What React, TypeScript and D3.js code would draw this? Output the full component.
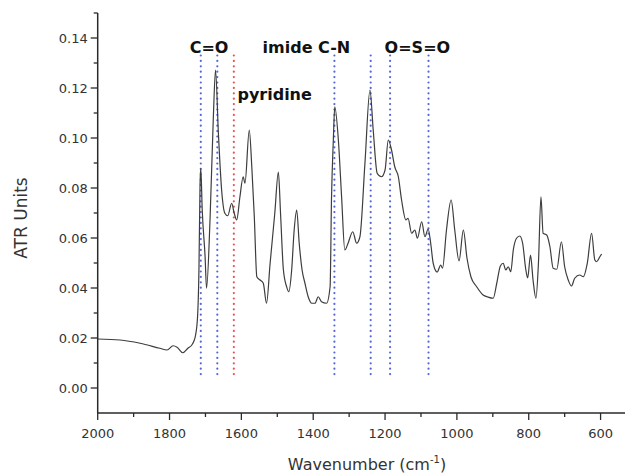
import React from 'react';
import * as d3 from 'd3';

const wavenumber = [
  2000, 1938, 1882, 1827, 1807, 1790, 1779, 1763, 1749, 1738, 1731, 1728, 1722, 1718, 1715, 1713, 1709, 1701, 1697,
  1687, 1678, 1672, 1664, 1655, 1646, 1638, 1627, 1620, 1613, 1604, 1595, 1590, 1578, 1571, 1564, 1557, 1548, 1539,
  1530, 1520, 1507, 1497, 1491, 1483, 1474, 1468, 1460, 1453, 1446, 1439, 1431, 1423, 1414, 1404, 1395, 1386, 1377,
  1363, 1353, 1349, 1344, 1340, 1330, 1321, 1312, 1303, 1290, 1279, 1270, 1256, 1242, 1233, 1222, 1210, 1200, 1191,
  1182, 1173, 1163, 1154, 1142, 1136, 1126, 1117, 1110, 1098, 1089, 1080, 1073, 1066, 1055, 1045, 1040, 1029, 1016,
  1006, 994, 982, 972, 961, 945, 927, 914, 899, 889, 879, 871, 864, 857, 850, 843, 834, 825, 817, 808, 803, 795, 788,
  780, 773, 766, 760, 750, 741, 732, 722, 709, 700, 690, 681, 672, 658, 648, 637, 625, 616, 611, 602, 597,
];

const absorbance = [
  0.0196, 0.0192, 0.0179, 0.0159, 0.0152, 0.0169, 0.0163, 0.0141, 0.0159, 0.0172, 0.0192, 0.0208, 0.0285, 0.0485,
  0.082, 0.0879, 0.0712, 0.0525, 0.0399, 0.0685, 0.1085, 0.1272, 0.1019, 0.0792, 0.0699, 0.0689, 0.0739, 0.0699,
  0.0672, 0.0765, 0.0845, 0.0819, 0.1032, 0.0885, 0.0685, 0.0445, 0.0432, 0.0419, 0.0339, 0.0499, 0.0699, 0.0864,
  0.0699, 0.0472, 0.0405, 0.0385, 0.0472, 0.0632, 0.0712, 0.0579, 0.0472, 0.0419, 0.0365, 0.0339, 0.0339, 0.0365,
  0.0345, 0.0339, 0.0405, 0.0765, 0.0992, 0.1125, 0.0992, 0.0765, 0.0552, 0.0579, 0.0625, 0.0579, 0.0605, 0.0899,
  0.1192, 0.1032, 0.0859, 0.0845, 0.0872, 0.0992, 0.0952, 0.0885, 0.0845, 0.0752, 0.0672, 0.0679, 0.0619, 0.0632,
  0.0599, 0.0665, 0.0605, 0.0636, 0.058, 0.0499, 0.0464, 0.0492, 0.0479, 0.0632, 0.0752, 0.0632, 0.0508, 0.0632,
  0.052, 0.0445, 0.0405, 0.0372, 0.0364, 0.0359, 0.0419, 0.0488, 0.0499, 0.0472, 0.0485, 0.0465, 0.0552, 0.0599,
  0.0608, 0.0579, 0.0472, 0.044, 0.0532, 0.0432, 0.0359, 0.0499, 0.0765, 0.0619, 0.0612, 0.0565, 0.0479, 0.0475,
  0.0585, 0.0485, 0.0432, 0.0408, 0.0439, 0.0452, 0.0445, 0.0499, 0.0619, 0.0512, 0.0505, 0.0525, 0.0536,
];

const xMajorTicks = [2000, 1800, 1600, 1400, 1200, 1000, 800, 600];
const xMinorTicks = [1900, 1700, 1500, 1300, 1100, 900, 700];
const yMajorTicks = [0.0, 0.02, 0.04, 0.06, 0.08, 0.1, 0.12, 0.14];
const yMinorTicks = [0.01, 0.03, 0.05, 0.07, 0.09, 0.11, 0.13, 0.15];

const bandPositions = [1713, 1667, 1621, 1341, 1240, 1186, 1079];
const bandKinds = ['blue', 'blue', 'red', 'blue', 'blue', 'blue', 'blue'];
const bandTop = 0.133;
const bandBottom = 0.004;

const labelTexts = ['C=O', 'imide C-N', 'O=S=O', 'pyridine'];
const labelWavenumbers = [1690, 1419, 1110, 1611];
const labelValues = [0.1341, 0.1341, 0.1341, 0.1153];
const labelAnchors = ['middle', 'middle', 'middle', 'start'];

export default function App() {
  const W = 625;
  const H = 474;
  const x = d3.scaleLinear().domain([2000, 532]).range([97.7, 625]);
  const y = d3.scaleLinear().domain([-0.01, 0.15]).range([413, 13]);
  const x0 = x(2000);
  const y0 = y(-0.01);

  const line = d3
    .line<number>()
    .x((_, i) => x(wavenumber[i]))
    .y((d) => y(d))
    .curve(d3.curveMonotoneX);

  const font = 'DejaVu Sans, Verdana, sans-serif';
  const axisColor = '#2a2a2a';
  const colorMap: Record<string, string> = { blue: '#5467d6', red: '#e8524f' };

  return (
    <svg
      width={W}
      height={H}
      style={{ position: 'absolute', left: 0, top: 0, background: '#fff' }}
      fontFamily={font}
    >
      {/* band markers */}
      {bandPositions.map((b, i) => (
        <line
          key={'b' + i}
          x1={x(b)}
          x2={x(b)}
          y1={y(bandTop)}
          y2={y(bandBottom)}
          stroke={colorMap[bandKinds[i]]}
          strokeWidth={2.2}
          strokeLinecap="round"
          strokeDasharray="0 5.4"
        />
      ))}

      {/* spectrum */}
      <path d={line(absorbance) || ''} fill="none" stroke="#3d3d3d" strokeWidth={1.2} strokeLinejoin="round" />

      {/* axes */}
      <line x1={x0} x2={x0} y1={y(0.15)} y2={y0} stroke={axisColor} strokeWidth={1.5} />
      <line x1={x0} x2={625} y1={y0} y2={y0} stroke={axisColor} strokeWidth={1.5} />

      {yMajorTicks.map((t) => (
        <g key={'ym' + t}>
          <line x1={x0 - 7} x2={x0} y1={y(t)} y2={y(t)} stroke={axisColor} strokeWidth={1.3} />
          <text x={x0 - 10} y={y(t)} dy="0.36em" textAnchor="end" fontSize={13} fill="#333">
            {t.toFixed(2)}
          </text>
        </g>
      ))}
      {yMinorTicks.map((t) => (
        <line key={'yn' + t} x1={x0 - 4} x2={x0} y1={y(t)} y2={y(t)} stroke={axisColor} strokeWidth={1.3} />
      ))}
      {xMajorTicks.map((t) => (
        <g key={'xm' + t}>
          <line x1={x(t)} x2={x(t)} y1={y0} y2={y0 + 7} stroke={axisColor} strokeWidth={1.3} />
          <text x={x(t)} y={438} textAnchor="middle" fontSize={13} fill="#333">
            {t}
          </text>
        </g>
      ))}
      {xMinorTicks.map((t) => (
        <line key={'xn' + t} x1={x(t)} x2={x(t)} y1={y0} y2={y0 + 4} stroke={axisColor} strokeWidth={1.3} />
      ))}

      {/* axis titles */}
      <text x={367} y={470} textAnchor="middle" fontSize={16} fill="#333">
        Wavenumber (cm
        <tspan fontSize={10} dy={-7}>-1</tspan>
        <tspan dy={7}>)</tspan>
      </text>
      <text
        transform="translate(27,218) rotate(-90)"
        textAnchor="middle"
        fontSize={17}
        fill="#333"
      >
        ATR Units
      </text>

      {/* annotations */}
      {labelTexts.map((t, i) => (
        <text
          key={'l' + i}
          x={x(labelWavenumbers[i])}
          y={y(labelValues[i])}
          textAnchor={labelAnchors[i] as any}
          fontSize={16}
          fontWeight="bold"
          fill="#111"
        >
          {t}
        </text>
      ))}
    </svg>
  );
}
